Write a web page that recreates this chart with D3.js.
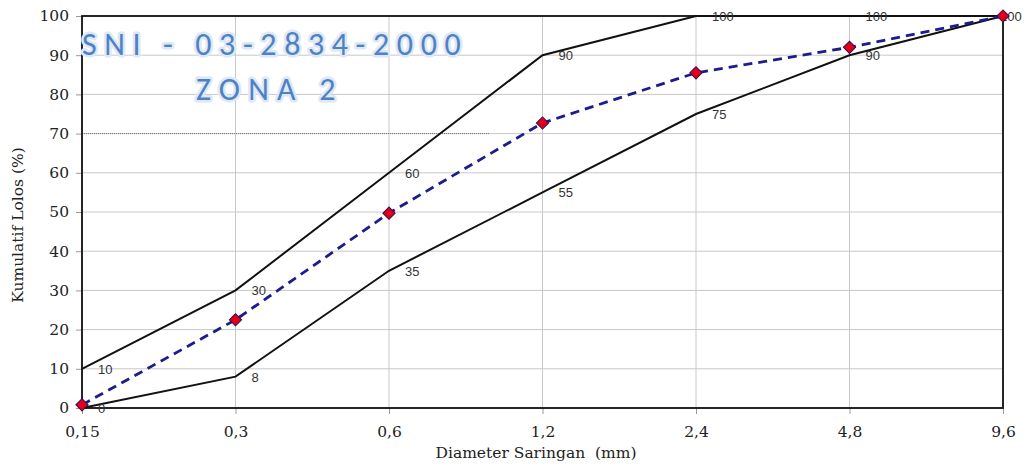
<!DOCTYPE html>
<html><head><meta charset="utf-8">
<script src="https://cdn.jsdelivr.net/npm/d3@7"></script>
<style>body{margin:0;background:#fff}svg{display:block}</style>
</head><body><svg id="c" width="1031" height="467"></svg>
<script>
const sizes = ["0,15","0,3","0,6","1,2","2,4","4,8","9,6"];
const upper = [10,30,60,90,100,100,100];
const lower = [0,8,35,55,75,90,100];
const actual = [0.8,22.5,49.7,72.7,85.5,92,100];
const yTicks = [0,10,20,30,40,50,60,70,80,90,100];

const svg = d3.select("#c");
const m = {l:82, r:1003, t:16, b:408};
const x = d3.scalePoint().domain(sizes).range([m.l, m.r]);
const y = d3.scaleLinear().domain([0,100]).range([m.b, m.t]);
const serif = "'DejaVu Serif', serif";

// gridlines
svg.append("g").selectAll("line").data(yTicks).join("line")
  .attr("x1", m.l).attr("x2", m.r).attr("y1", d=>y(d)).attr("y2", d=>y(d))
  .attr("stroke", "#c8c8c8").attr("stroke-width", 1);
svg.append("g").selectAll("line").data(sizes).join("line")
  .attr("x1", d=>x(d)).attr("x2", d=>x(d)).attr("y1", m.t).attr("y2", m.b)
  .attr("stroke", "#c8c8c8").attr("stroke-width", 1);
// dotted 70 line
svg.append("line").attr("x1", m.l).attr("x2", 490).attr("y1", y(70)).attr("y2", y(70))
  .attr("stroke", "#777").attr("stroke-width", 1).attr("stroke-dasharray", "1,1");

// axes
const xa = svg.append("g").attr("transform", `translate(0,${m.b})`)
  .call(d3.axisBottom(x).tickSize(6).tickPadding(12));
const ya = svg.append("g").attr("transform", `translate(${m.l},0)`)
  .call(d3.axisLeft(y).tickValues(yTicks).tickSize(6).tickPadding(7));
[xa, ya].forEach(a => {
  a.select(".domain").remove();
  a.selectAll("line").attr("stroke", "#999");
  a.selectAll("text").attr("font-family", serif).attr("font-size", 15.5).attr("fill", "#222");
});

// border
svg.append("rect").attr("x", m.l).attr("y", m.t).attr("width", m.r-m.l).attr("height", m.b-m.t)
  .attr("fill", "none").attr("stroke", "#111").attr("stroke-width", 1.8);

// lines
const line = d3.line().x((d,i)=>x(sizes[i])).y(d=>y(d));
[upper, lower].forEach(s => {
  svg.append("path").datum(s).attr("d", line).attr("fill", "none")
    .attr("stroke", "#111").attr("stroke-width", 2);
});
svg.append("path").datum(actual).attr("d", line).attr("fill", "none")
  .attr("stroke", "#1c1c8c").attr("stroke-width", 2.8).attr("stroke-dasharray", "9,6");

// data labels
const lab = svg.append("g").attr("font-family", "'Liberation Sans', Arial, sans-serif")
  .attr("font-size", 13).attr("fill", "#333");
const labels = [];
sizes.forEach((s,i) => {
  labels.push({s, v: upper[i]});
  if (i < sizes.length-1) labels.push({s, v: lower[i]});
});
lab.selectAll("text").data(labels).join("text")
  .attr("x", d=>x(d.s) + (d.v===100 && d.s==="9,6" ? -3 : 16))
  .attr("y", d=>y(d.v)+5)
  .text(d=>d.v);

// markers
svg.append("g").selectAll("path").data(actual).join("path")
  .attr("transform", (d,i)=>`translate(${x(sizes[i])},${y(d)}) rotate(45)`)
  .attr("d", d3.symbol().type(d3.symbolSquare2).size(95))
  .attr("fill", "#e0001b").attr("stroke", "#3a0a50").attr("stroke-width", 1);

// axis titles
svg.append("text").attr("x", 536).attr("y", 458).attr("text-anchor", "middle")
  .attr("font-family", serif).attr("font-size", 15.5).attr("fill", "#222")
  .attr("xml:space", "preserve").text("Diameter Saringan  (mm)");
svg.append("text").attr("transform", "translate(23,225) rotate(-90)").attr("text-anchor", "middle")
  .attr("font-family", serif).attr("font-size", 15.5).attr("fill", "#222")
  .text("Kumulatif Lolos (%)");

// title
const tg = svg.append("g").attr("font-family", "Carlito, 'Open Sans', sans-serif")
  .attr("font-size", 32);
[["SNI - 03-2834-2000", 82, 55, 7.6], ["ZONA 2", 196, 100, 8.2]].forEach(([t, tx, ty, ls]) => {
  tg.append("text").attr("x", tx).attr("y", ty).text(t).attr("xml:space", "preserve").attr("letter-spacing", ls)
    .attr("fill", "none").attr("stroke", "#dfe9f6").attr("stroke-width", 5).attr("stroke-linejoin", "round");
  tg.append("text").attr("x", tx).attr("y", ty).text(t).attr("xml:space", "preserve").attr("letter-spacing", ls)
    .attr("fill", "#4f82c4");
});
</script></body></html>
